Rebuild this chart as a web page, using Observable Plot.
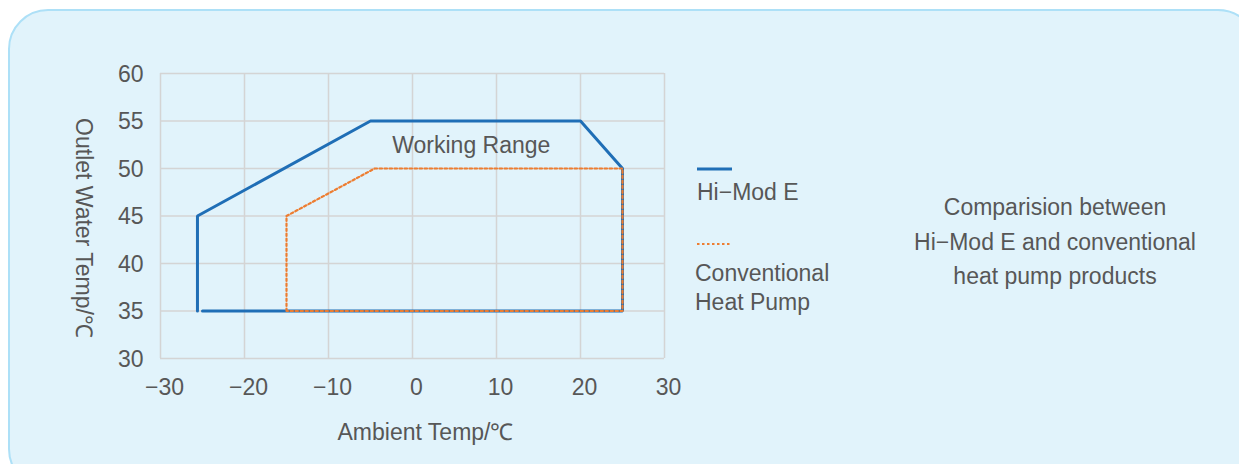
<!DOCTYPE html>
<html>
<head>
<meta charset="utf-8">
<script src="https://cdn.jsdelivr.net/npm/d3@7"></script>
<script src="https://cdn.jsdelivr.net/npm/@observablehq/plot@0.6"></script>
<style>
  html, body { margin: 0; padding: 0; background: #ffffff; overflow: hidden; }
  body { width: 1239px; height: 464px; position: relative; font-family: "Liberation Sans", Arial, sans-serif; color: #575757; }
  #panel { position: absolute; left: 8px; top: 9px; width: 1250px; height: 480px; box-sizing: border-box;
           border: 2px solid #ade0f7; border-radius: 40px; background: #e1f3fb; }
  #chart { position: absolute; left: 0; top: 0; }
  .leg { position: absolute; font-size: 23px; line-height: 29px; color: #575757; }
  .note { position: absolute; left: 880px; top: 190px; width: 350px; text-align: center; font-size: 23px; line-height: 34.5px; color: #575757; }
  svg.sw { position: absolute; overflow: visible; }
</style>
</head>
<body>
<div id="panel"></div>
<div id="chart"></div>
<svg class="sw" style="left:697px; top:160px" width="36" height="20"><line x1="0" x2="35" y1="9" y2="9" stroke="#1f6eb6" stroke-width="3"/></svg>
<div class="leg" style="left:697px; top:178px">Hi−Mod E</div>
<svg class="sw" style="left:697px; top:235px" width="36" height="20"><line x1="0" x2="35" y1="9" y2="9" stroke="#ed7d31" stroke-width="2" stroke-dasharray="2.5,2.5"/></svg>
<div class="leg" style="left:695px; top:259px">Conventional<br>Heat Pump</div>
<div class="note">Comparision between<br>Hi−Mod E and conventional<br>heat pump products</div>
<script>
// ---- data ----
const xTicks = [-30, -20, -10, 0, 10, 20, 30];
const yTicks = [30, 35, 40, 45, 50, 55, 60];
const hiModX = [-25, 25, 25, 20, -5, -25.6, -25.6];
const hiModY = [35, 35, 50, 55, 55, 45, 35];
const convX = [-15, -15, -4.5, 25, 25, -15];
const convY = [35, 45, 50, 50, 35, 35];
const annoText = ["Working Range"];
const annoX = [7];
const annoY = [52.4];
const xLabel = "Ambient Temp/℃";
const yLabel = "Outlet Water Temp/℃";

const hiMod = hiModX.map((x, i) => ({x, y: hiModY[i]}));
const conv = convX.map((x, i) => ({x, y: convY[i]}));
const annos = annoText.map((t, i) => ({text: t, x: annoX[i], y: annoY[i]}));

const gridColor = "#d4d4d4";
const fs = 23;
const chart = Plot.plot({
  width: 700,
  height: 464,
  marginLeft: 160,
  marginRight: 36,
  marginTop: 73,
  marginBottom: 106,
  x: {domain: [-30, 30], ticks: xTicks},
  y: {domain: [30, 60], ticks: yTicks},
  style: {background: "transparent", fontFamily: "'Liberation Sans', Arial, sans-serif", fontSize: fs + "px", color: "#575757", overflow: "visible"},
  marks: [
    Plot.gridX({ticks: xTicks, stroke: gridColor, strokeOpacity: 1, strokeWidth: 1.5}),
    Plot.gridY({ticks: yTicks, stroke: gridColor, strokeOpacity: 1, strokeWidth: 1.5}),
    Plot.axisX({ticks: xTicks, tickSize: 0, tickPadding: 20, label: null, fontSize: fs, dx: 4}),
    Plot.axisY({ticks: yTicks, tickSize: 0, tickPadding: 17, label: null, fontSize: fs, dy: 1}),
    Plot.line(hiMod, {x: "x", y: "y", stroke: "#1f6eb6", strokeWidth: 3, strokeLinejoin: "miter"}),
    Plot.line(conv, {x: "x", y: "y", stroke: "#ed7d31", strokeWidth: 2.2, strokeDasharray: "2.5,2.5"}),
    Plot.text(annos, {x: "x", y: "y", text: "text", fontSize: fs, fill: "#575757"}),
    Plot.text([xLabel], {text: d => d, frameAnchor: "bottom", dy: 81, dx: 13, fontSize: fs, fill: "#575757"}),
    Plot.text([yLabel], {text: d => d, frameAnchor: "left", textAnchor: "middle", dx: -77, dy: 12, rotate: 90, fontSize: fs, fill: "#575757"})
  ]
});
document.getElementById("chart").appendChild(chart);
</script>
</body>
</html>
